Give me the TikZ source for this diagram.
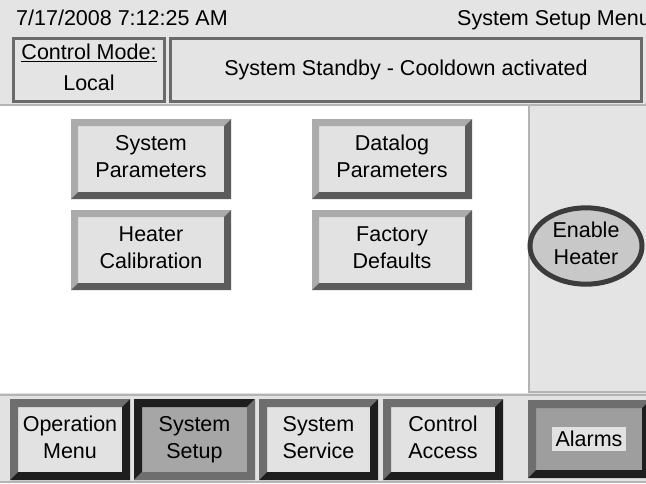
\documentclass[tikz,border=0pt]{standalone}
\usepackage{fontspec}
\setmainfont{Liberation Sans}
\usepackage{tikz}
\usetikzlibrary{positioning, shapes.geometric}

\definecolor{screen}{HTML}{E4E4E4}
\definecolor{btnface}{HTML}{E2E2E2}
\definecolor{btnlight}{HTML}{ABABAB}
\definecolor{btndark}{HTML}{5C5C5C}
\definecolor{navmid}{HTML}{6E6E6E}
\definecolor{navdark}{HTML}{1E1E1E}
\definecolor{setupface}{HTML}{A6A6A6}
\definecolor{alarmface}{HTML}{9E9E9E}
\definecolor{boxedge}{HTML}{6A6A6A}
\definecolor{rimline}{HTML}{B4B4B4}
\definecolor{ovaledge}{HTML}{3C3C3C}
\definecolor{ovalface}{HTML}{C8C8C8}

\newcommand{\btnfont}{\fontsize{21.5}{27}\selectfont}

\tikzset{
  bevel/.style n args={3}{
    path picture={
      \fill[#1] (path picture bounding box.south west)
        -- (path picture bounding box.north west)
        -- (path picture bounding box.north east)
        -- ([xshift=-#3,yshift=-#3]path picture bounding box.north east)
        -- ([xshift=#3,yshift=-#3]path picture bounding box.north west)
        -- ([xshift=#3,yshift=#3]path picture bounding box.south west) -- cycle;
      \fill[#2] (path picture bounding box.south west)
        -- (path picture bounding box.south east)
        -- (path picture bounding box.north east)
        -- ([xshift=-#3,yshift=-#3]path picture bounding box.north east)
        -- ([xshift=-#3,yshift=#3]path picture bounding box.south east)
        -- ([xshift=#3,yshift=#3]path picture bounding box.south west) -- cycle;
    }
  },
  menubtn/.style={
    bevel={btnlight}{btndark}{7pt},
    fill=btnface,
    minimum width=160pt,
    minimum height=80pt,
    inner sep=0pt, outer sep=0pt,
    font=\btnfont
  },
  navbtn/.style={
    bevel={navmid}{navdark}{8pt},
    fill=btnface,
    minimum height=81pt,
    inner sep=0pt, outer sep=0pt,
    font=\btnfont
  },
  infobox/.style={
    draw=boxedge, line width=3pt,
    fill=screen,
    minimum height=63pt,
    inner sep=0pt, outer sep=0pt,
    font=\btnfont
  }
}

\begin{document}
\begin{tikzpicture}[x=1pt, y=-1pt]

\clip (0,0) rectangle (646,483);

% screen areas
\fill[screen] (0,0) rectangle (646,106);
\fill[white] (0,106) rectangle (528,393);
\fill[screen] (528,106) rectangle (646,393);
\fill[btnface] (0,393) rectangle (646,483);
\draw[rimline, line width=2pt] (0,105) -- (646,105);
\draw[rimline, line width=2pt] (529,106) -- (529,392) -- (646,392);
\draw[rimline, line width=2pt] (0,395) -- (646,395);
\draw[rimline, line width=1.5pt] (0,482) -- (646,482);

% title line
\node [anchor=base west, inner sep=0pt, font=\btnfont] (clock) at (16,25) {7/17/2008 7:12:25 AM};
\node [anchor=base west, inner sep=0pt, font=\btnfont] (title) at (457,25) {System Setup Menu};

% status row
\node [infobox,
    minimum width=151pt,
    anchor=north west
] (ctrlmode) at (13.5,38.5) {\begin{tabular}{c} \underline{Control Mode:} \\[4pt] Local \end{tabular}};

\node [infobox,
    minimum width=471pt,
    right=6pt of ctrlmode
] (standby) {System Standby - Cooldown activated};

% setup buttons
\node [menubtn,
    anchor=north west
] (sysparam) at (71,119) {\begin{tabular}{c} System \\ Parameters \end{tabular}};

\node [menubtn,
    right=81pt of sysparam
] (datalog) {\begin{tabular}{c} Datalog \\ Parameters \end{tabular}};

\node [menubtn,
    below=11pt of sysparam
] (heatcal) {\begin{tabular}{c} Heater \\ Calibration \end{tabular}};

\node [menubtn,
    below=11pt of datalog
] (factory) {\begin{tabular}{c} Factory \\ Defaults \end{tabular}};

% heater toggle
\node [ellipse,
    draw=ovaledge, line width=5pt,
    fill=ovalface,
    minimum width=112pt,
    minimum height=73pt,
    inner sep=0pt,
    font=\btnfont
] (heater) at (586,246) {\begin{tabular}{c} Enable \\ Heater \end{tabular}};

% navigation bar
\node [navbtn,
    minimum width=120pt,
    anchor=north west
] (opmenu) at (10,399) {\begin{tabular}{c} Operation \\ Menu \end{tabular}};

\node [navbtn,
    bevel={navdark}{navmid}{8pt},
    fill=setupface,
    minimum width=121pt,
    right=4pt of opmenu
] (syssetup) {\begin{tabular}{c} System \\ Setup \end{tabular}};

\node [navbtn,
    minimum width=119pt,
    right=4pt of syssetup
] (sysservice) {\begin{tabular}{c} System \\ Service \end{tabular}};

\node [navbtn,
    minimum width=120pt,
    right=5pt of sysservice
] (ctrlaccess) {\begin{tabular}{c} Control \\ Access \end{tabular}};

\node [navbtn,
    fill=alarmface,
    minimum width=122pt,
    minimum height=78pt,
    anchor=north west
] (alarms) at (528,400) {\setlength{\fboxsep}{4pt}\colorbox{btnface}{Alarms}};

\end{tikzpicture}
\end{document}
